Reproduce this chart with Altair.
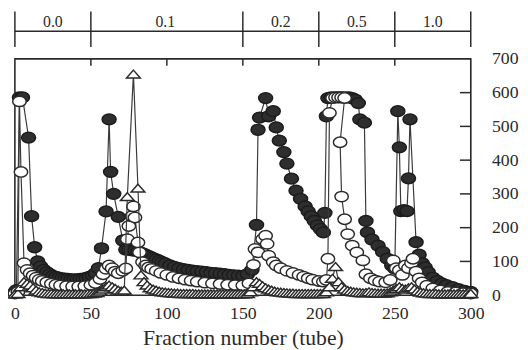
import altair as alt
import pandas as pd

# ---- data ----
filled_x = [0, 1, 3, 5, 9, 11, 13, 15, 17, 19, 21, 23, 25, 27, 29, 31, 33, 35, 37, 39, 41, 43, 45, 47, 49, 51, 53, 55,
            57, 60, 62, 63, 65, 68, 71, 73, 75, 77, 79, 81, 83, 85, 87, 89, 91, 93, 95, 97, 99, 102, 105, 108, 111, 114,
            117, 120, 123, 126, 129, 132, 135, 138, 141, 144, 147, 150, 153, 156, 159, 160, 161, 165, 167, 170, 172,
            174, 177, 179, 182, 185, 188, 191, 193, 195, 197, 199, 201, 203, 204, 205, 206, 208, 210, 212, 214, 216,
            218, 220, 222, 224, 226, 227, 230, 231, 232, 235, 239, 242, 245, 248, 250, 252, 253, 254, 256, 258, 259,
            260, 264, 266, 268, 270, 272, 275, 278, 281, 284, 288, 292, 296, 300]
filled_y = [8, 15, 586, 586, 467, 234, 142, 100, 85, 75, 68, 62, 57, 54, 52, 50, 49, 48, 47, 47, 47, 48, 49, 51, 54, 58, 65, 80,
            139, 248, 521, 365, 300, 232, 162, 135, 135, 133, 132, 130, 126, 122, 118, 114, 110, 106, 102, 98, 94, 88,
            84, 80, 77, 75, 73, 71, 70, 68, 66, 65, 64, 62, 60, 59, 58, 57, 62, 75, 208, 490, 526, 584, 530, 545, 497,
            458, 424, 390, 345, 310, 285, 263, 248, 234, 220, 207, 196, 186, 244, 530, 584, 586, 586, 586, 586, 586,
            586, 586, 584, 579, 569, 521, 511, 220, 186, 165, 147, 128, 108, 88, 79, 545, 438, 249, 252, 249, 346,
            521, 157, 120, 95, 82, 68, 52, 42, 35, 30, 24, 18, 13, 10]

open_x = [0, 2, 3, 4, 6, 8, 10, 12, 14, 16, 18, 21, 24, 27, 30, 34, 38, 42, 46, 50, 53, 56, 58, 60, 62, 64, 66, 68, 71,
          73, 74, 75, 77, 78, 79, 81, 82, 84, 86, 88, 90, 93, 96, 100, 104, 108, 112, 116, 120, 125, 130, 135, 140, 145,
          150, 154, 157, 158, 160, 163, 165, 166, 167, 170, 172, 175, 179, 183, 187, 190, 193, 196, 200, 203, 205, 206,
          207, 209, 211, 213, 215, 217, 214, 215, 217, 219, 222, 225, 229, 231, 234, 237, 240, 244, 247, 249, 251, 253,
          255, 257, 259, 261, 262, 264, 266, 268, 271, 275, 280, 285, 290, 295, 300]
open_y = [5, 10, 574, 365, 95, 75, 65, 58, 52, 46, 42, 38, 34, 31, 29, 27, 26, 26, 27, 30, 36, 48, 62, 78, 88, 80, 70, 65,
          72, 79, 166, 205, 234, 263, 230, 156, 127, 98, 88, 82, 78, 72, 66, 60, 54, 50, 46, 43, 40, 37, 35, 33, 31, 30,
          29, 35, 90, 137, 127, 166, 176, 152, 117, 98, 88, 80, 72, 66, 60, 55, 50, 46, 42, 40, 45, 108, 540, 584, 586,
          586, 586, 584, 453, 292, 225, 181, 147, 127, 103, 62, 50, 44, 40, 38, 45, 103, 80, 74, 60, 88, 80, 95, 108, 70,
          50, 38, 28, 20, 14, 10, 8, 6, 5]

tri_x = [0, 2, 4, 6, 8, 10, 12, 14, 16, 18, 20, 22, 24, 26, 28, 30, 32, 34, 36, 38, 40, 42, 44, 46, 48, 50, 52, 54, 56,
         58, 60, 62, 64, 66, 68, 70, 72, 74, 78, 81, 83, 85, 87, 89, 91, 93, 95, 97, 99, 101, 103, 105, 107, 109, 111,
         113, 115, 117, 119, 121, 123, 125, 127, 129, 131, 133, 135, 137, 139, 141, 143, 145, 147, 149, 151, 153, 155,
         157, 159, 161, 163, 165, 167, 169, 171, 173, 175, 177, 179, 181, 183, 185, 187, 189, 191, 193, 195, 197, 199,
         201, 203, 205, 207, 209, 211, 213, 215, 217, 219, 221, 223, 225, 227, 229, 231, 233, 235, 237, 239, 241, 243,
         245, 247, 249, 251, 253, 255, 257, 259, 261, 263, 265, 267, 269, 271, 273, 275, 277, 279, 281, 283, 285, 287,
         289, 291, 293, 295, 297, 299, 300]
tri_y = [3, 5, 25, 40, 35, 30, 22, 15, 10, 8, 6, 5, 5, 4, 4, 4, 4, 4, 4, 4, 4, 4, 4, 4, 5, 5, 6, 8, 12, 18, 25, 30, 25,
         20, 15, 12, 15, 292, 655, 317, 60, 40, 30, 22, 18, 15, 12, 10, 9, 8, 7, 6, 6, 5, 5, 5, 5, 5, 4, 4, 4, 4, 4, 4,
         4, 4, 4, 4, 4, 4, 4, 4, 4, 4, 4, 5, 10, 25, 40, 35, 28, 22, 18, 15, 12, 10, 9, 8, 7, 6, 6, 5, 5, 5, 5, 5, 5, 5,
         5, 5, 5, 10, 25, 50, 85, 40, 25, 18, 14, 12, 10, 9, 8, 7, 8, 10, 8, 7, 6, 6, 6, 7, 10, 15, 20, 25, 20, 18, 22,
         25, 18, 12, 9, 7, 6, 5, 5, 5, 4, 4, 4, 4, 4, 4, 4, 4, 4, 4, 4, 5]

salt_edges = [0, 50, 150, 200, 250, 300]
salt_labels = ["0.0", "0.1", "0.2", "0.5", "1.0"]
salt_label_pos = [25, 99, 175, 225, 275]
top_ticks = [50, 100, 150, 200, 250]
right_ticks = [100, 200, 300, 400, 500, 600]
y_ticks = [0, 100, 200, 300, 400, 500, 600, 700]
x_ticks = [0, 50, 100, 150, 200, 250, 300]

W, H = 463, 240
FONT = "Liberation Serif"
INK = "#2a2a2a"

ELLIPSE = "M-1.3,0A1.3,1,0,1,0,1.3,0A1.3,1,0,1,0,-1.3,0Z"
TRIANGLE = "M0,-0.8L1.4,0.8L-1.4,0.8Z"


def frame(xs, ys):
    return pd.DataFrame({"x": xs, "y": ys, "i": list(range(len(xs)))})


xs = alt.Scale(domain=[0, 300], nice=False, zero=False)
ys = alt.Scale(domain=[0, 700], nice=False)

x_axis = alt.Axis(values=x_ticks, ticks=False, domain=False, grid=False,
                  labelFont=FONT, labelFontSize=18, labelColor=INK, labelPadding=10,
                  title="Fraction number (tube)", titleFont=FONT, titleFontSize=22,
                  titleFontWeight="normal", titleColor=INK, titlePadding=5,
                  labelFlush=False, labelOverlap=False)
y_axis = alt.Axis(orient="right", values=y_ticks, ticks=False, domain=False, grid=False,
                  labelFont=FONT, labelFontSize=18, labelColor=INK, labelPadding=21,
                  title=None, labelFlush=False, labelOverlap=False)
x_enc = alt.X("x:Q", scale=xs, axis=x_axis)
y_enc = alt.Y("y:Q", scale=ys, axis=y_axis)


def series(xs_, ys_, fill, stroke, shape, size):
    df = frame(xs_, ys_)
    line = alt.Chart(df).mark_line(color="#3a3a3a", strokeWidth=1.2).encode(
        x=x_enc, y=y_enc, order="i:Q")
    pts = alt.Chart(df).mark_point(shape=shape, size=size, filled=True, fill=fill, stroke=stroke,
                                   strokeWidth=1.5, opacity=1).encode(x=x_enc, y=y_enc, order="i:Q")
    return line, pts


f_line, f_pts = series(filled_x, filled_y, "#2e2e2e", "#1c1c1c", ELLIPSE, 120)
o_line, o_pts = series(open_x, open_y, "white", "#2a2a2a", ELLIPSE, 110)
t_line, t_pts = series(tri_x, tri_y, "white", "#2a2a2a", TRIANGLE, 100)

# inward ticks
top_tick_df = pd.DataFrame({"x": top_ticks})
top_tick = alt.Chart(top_tick_df).mark_rule(color=INK, strokeWidth=1.5).encode(
    x=x_enc, y=alt.value(0), y2=alt.value(7))
right_tick_df = pd.DataFrame({"y": right_ticks})
right_tick = alt.Chart(right_tick_df).mark_rule(color=INK, strokeWidth=1.5).encode(
    y=y_enc, x=alt.value(W - 11), x2=alt.value(W))

# plot frame
frame_box = alt.Chart(pd.DataFrame({"k": [0]})).mark_rect(
    fill="white", stroke=INK, strokeWidth=1.6).encode(
    x=alt.value(0), x2=alt.value(W), y=alt.value(0), y2=alt.value(H))

# salt-concentration bar on top
bar_df = pd.DataFrame({"x": [salt_edges[0]], "x2": [salt_edges[-1]]})
bar_line = alt.Chart(bar_df).mark_rule(color=INK, strokeWidth=1.5).encode(
    x=x_enc, x2="x2:Q", y=alt.value(-28))
edge_df = pd.DataFrame({"x": salt_edges})
edge_rules = alt.Chart(edge_df).mark_rule(color=INK, strokeWidth=1.5).encode(
    x=x_enc, y=alt.value(-48), y2=alt.value(-12))
lab_df = pd.DataFrame({"x": salt_label_pos, "t": salt_labels})
salt_text = alt.Chart(lab_df).mark_text(font=FONT, fontSize=16, color=INK, baseline="middle").encode(
    x=x_enc, y=alt.value(-37), text="t:N")

chart = alt.layer(
    frame_box,
    f_line, f_pts, o_line, o_pts, t_line, t_pts,
    top_tick, right_tick, bar_line, edge_rules, salt_text
).properties(
    width=W, height=H,
    autosize=alt.AutoSizeParams(type="none"),
    padding={"left": 7, "top": 49, "right": 50, "bottom": 53},
).configure_view(
    stroke=None, fill="white"
).configure(background="white")

chart.save("out.html", embed_options={"renderer": "svg", "actions": False})
